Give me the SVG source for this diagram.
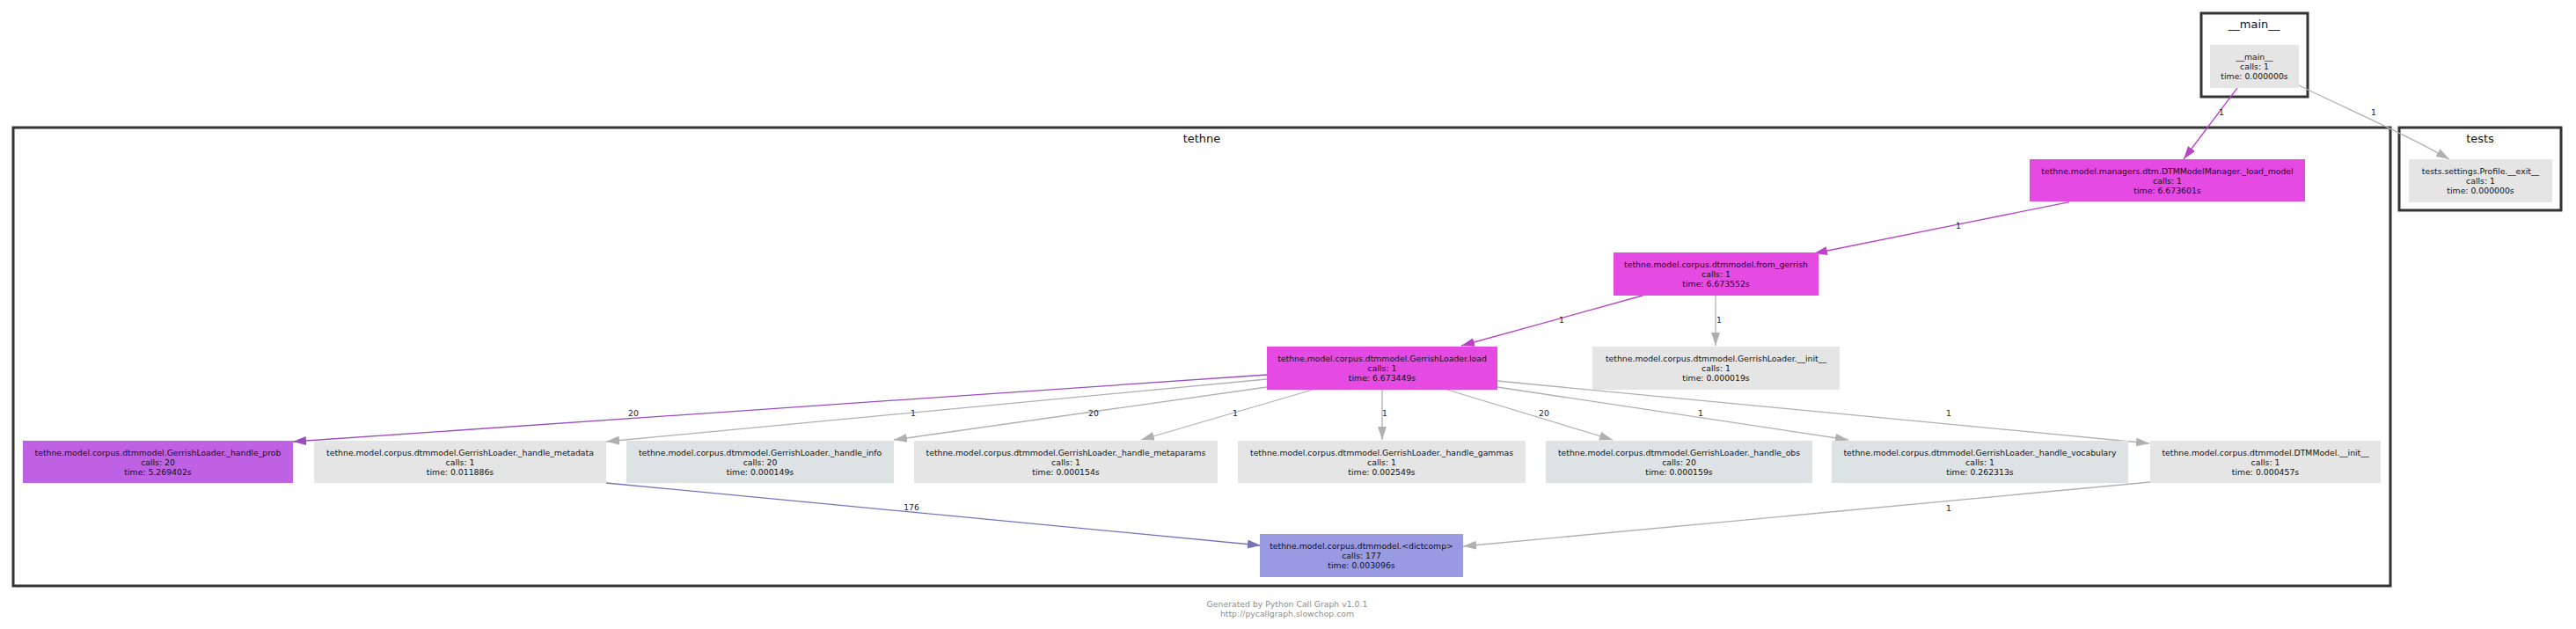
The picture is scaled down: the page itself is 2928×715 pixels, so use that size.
<svg xmlns="http://www.w3.org/2000/svg" width="2928" height="715" viewBox="0 0 2928 715">
<style>
.cl{fill:#ffffff;stroke:#333333;stroke-width:3}
.ct{font-family:"DejaVu Sans",Verdana,sans-serif;font-size:13px;fill:#111;text-anchor:middle}
.nt{font-family:"DejaVu Sans",Verdana,sans-serif;font-size:9.3px;fill:#111;text-anchor:middle}
.el{font-family:"DejaVu Sans",Verdana,sans-serif;font-size:9.3px;fill:#222;text-anchor:middle}
.ft{font-family:"DejaVu Sans",Verdana,sans-serif;font-size:9.3px;fill:#8c8c8c;text-anchor:middle}
.g{fill:#e5e5e5}
.b{fill:#dde3e5}
.m{fill:#e54ae3}
.p{fill:#bf61e3}
.v{fill:#9a9ae3}
.e{fill:none;stroke-width:1.3}
.eg{stroke:#b0b0b0}
.em{stroke:#b843c3}
.ep{stroke:#9a4cc0}
.ev{stroke:#7474b8}
</style>
<defs>
<marker id="ag" markerUnits="userSpaceOnUse" markerWidth="16" markerHeight="12" refX="15" refY="5" orient="auto"><path d="M0,0 L15,5 L0,10 Z" fill="#b0b0b0"/></marker>
<marker id="am" markerUnits="userSpaceOnUse" markerWidth="16" markerHeight="12" refX="15" refY="5" orient="auto"><path d="M0,0 L15,5 L0,10 Z" fill="#b843c3"/></marker>
<marker id="ap" markerUnits="userSpaceOnUse" markerWidth="16" markerHeight="12" refX="15" refY="5" orient="auto"><path d="M0,0 L15,5 L0,10 Z" fill="#9a4cc0"/></marker>
<marker id="av" markerUnits="userSpaceOnUse" markerWidth="16" markerHeight="12" refX="15" refY="5" orient="auto"><path d="M0,0 L15,5 L0,10 Z" fill="#7474b8"/></marker>
</defs>
<rect width="2928" height="715" fill="#ffffff"/>
<g id="clusters">
<g id="cluster_main"><rect class="cl" x="2502" y="15" width="121" height="95"/><text class="ct" x="2562" y="32">__main__</text></g>
<g id="cluster_tests"><rect class="cl" x="2727" y="145" width="184" height="94"/><text class="ct" x="2819" y="161.5">tests</text></g>
<g id="cluster_tethne"><rect class="cl" x="15" y="145" width="2702" height="521"/><text class="ct" x="1366" y="161.5">tethne</text></g>
</g>
<g id="connectors">
<path class="e em" d="M2543,100 L2482,181" marker-end="url(#am)"/>
<path class="e eg" d="M2613,97 C2670,125 2730,150 2784,181" marker-end="url(#ag)"/>
<path class="e em" d="M2352,229.6 L2062,288" marker-end="url(#am)"/>
<path class="e em" d="M1867,336 L1661,393" marker-end="url(#am)"/>
<path class="e eg" d="M1950,336 L1950,393" marker-end="url(#ag)"/>
<path class="e ep" d="M1440,426 L333,502" marker-end="url(#ap)"/>
<path class="e eg" d="M1440,431 L689,502" marker-end="url(#ag)"/>
<path class="e eg" d="M1440,440 L1016,500" marker-end="url(#ag)"/>
<path class="e eg" d="M1492,443 L1297,500" marker-end="url(#ag)"/>
<path class="e eg" d="M1571,443 L1571,500" marker-end="url(#ag)"/>
<path class="e eg" d="M1645,443 L1833,500" marker-end="url(#ag)"/>
<path class="e eg" d="M1702,440 L2101,500" marker-end="url(#ag)"/>
<path class="e eg" d="M1702,433 L2443,504" marker-end="url(#ag)"/>
<path class="e ev" d="M689,549 L1433,620" marker-end="url(#av)"/>
<path class="e eg" d="M2444,548 L1663,621" marker-end="url(#ag)"/>
<text class="el" x="2525" y="131">1</text>
<text class="el" x="2698" y="131">1</text>
<text class="el" x="2226" y="260">1</text>
<text class="el" x="1775" y="367">1</text>
<text class="el" x="1954" y="367">1</text>
<text class="el" x="720" y="473">20</text>
<text class="el" x="1038" y="473">1</text>
<text class="el" x="1243" y="473">20</text>
<text class="el" x="1404" y="473">1</text>
<text class="el" x="1574" y="473">1</text>
<text class="el" x="1755" y="473">20</text>
<text class="el" x="1933" y="473">1</text>
<text class="el" x="2215" y="473">1</text>
<text class="el" x="1036" y="580">176</text>
<text class="el" x="2215" y="581">1</text>
</g>
<g id="n_main"><rect class="g" x="2512" y="51" width="101" height="49"/><text class="nt" x="2562.5" y="67.8">__main__</text><text class="nt" x="2562.5" y="78.8">calls: 1</text><text class="nt" x="2562.5" y="89.8">time: 0.000000s</text></g>
<g id="n_tests_exit"><rect class="g" x="2738" y="181" width="163" height="49"/><text class="nt" x="2819.5" y="197.8">tests.settings.Profile.__exit__</text><text class="nt" x="2819.5" y="208.8">calls: 1</text><text class="nt" x="2819.5" y="219.8">time: 0.000000s</text></g>
<g id="n_load_model"><rect class="m" x="2307" y="181" width="313" height="48"/><text class="nt" x="2463.5" y="197.8">tethne.model.managers.dtm.DTMModelManager._load_model</text><text class="nt" x="2463.5" y="208.8">calls: 1</text><text class="nt" x="2463.5" y="219.8">time: 6.673601s</text></g>
<g id="n_from_gerrish"><rect class="m" x="1834" y="287" width="233" height="49"/><text class="nt" x="1950.5" y="303.8">tethne.model.corpus.dtmmodel.from_gerrish</text><text class="nt" x="1950.5" y="314.8">calls: 1</text><text class="nt" x="1950.5" y="325.8">time: 6.673552s</text></g>
<g id="n_load"><rect class="m" x="1440" y="394" width="262" height="49"/><text class="nt" x="1571" y="410.8">tethne.model.corpus.dtmmodel.GerrishLoader.load</text><text class="nt" x="1571" y="421.8">calls: 1</text><text class="nt" x="1571" y="432.8">time: 6.673449s</text></g>
<g id="n_gl_init"><rect class="g" x="1810" y="394" width="281" height="49"/><text class="nt" x="1950.5" y="410.8">tethne.model.corpus.dtmmodel.GerrishLoader.__init__</text><text class="nt" x="1950.5" y="421.8">calls: 1</text><text class="nt" x="1950.5" y="432.8">time: 0.000019s</text></g>
<g id="n_prob"><rect class="p" x="26" y="501" width="307" height="48"/><text class="nt" x="179.5" y="517.8">tethne.model.corpus.dtmmodel.GerrishLoader._handle_prob</text><text class="nt" x="179.5" y="528.8">calls: 20</text><text class="nt" x="179.5" y="539.8">time: 5.269402s</text></g>
<g id="n_metadata"><rect class="g" x="357" y="501" width="332" height="48"/><text class="nt" x="523" y="517.8">tethne.model.corpus.dtmmodel.GerrishLoader._handle_metadata</text><text class="nt" x="523" y="528.8">calls: 1</text><text class="nt" x="523" y="539.8">time: 0.011886s</text></g>
<g id="n_info"><rect class="b" x="712" y="501" width="304" height="48"/><text class="nt" x="864" y="517.8">tethne.model.corpus.dtmmodel.GerrishLoader._handle_info</text><text class="nt" x="864" y="528.8">calls: 20</text><text class="nt" x="864" y="539.8">time: 0.000149s</text></g>
<g id="n_metaparams"><rect class="g" x="1039" y="501" width="345" height="48"/><text class="nt" x="1211.5" y="517.8">tethne.model.corpus.dtmmodel.GerrishLoader._handle_metaparams</text><text class="nt" x="1211.5" y="528.8">calls: 1</text><text class="nt" x="1211.5" y="539.8">time: 0.000154s</text></g>
<g id="n_gammas"><rect class="g" x="1407" y="501" width="327" height="48"/><text class="nt" x="1570.5" y="517.8">tethne.model.corpus.dtmmodel.GerrishLoader._handle_gammas</text><text class="nt" x="1570.5" y="528.8">calls: 1</text><text class="nt" x="1570.5" y="539.8">time: 0.002549s</text></g>
<g id="n_obs"><rect class="b" x="1757" y="501" width="303" height="48"/><text class="nt" x="1908.5" y="517.8">tethne.model.corpus.dtmmodel.GerrishLoader._handle_obs</text><text class="nt" x="1908.5" y="528.8">calls: 20</text><text class="nt" x="1908.5" y="539.8">time: 0.000159s</text></g>
<g id="n_vocabulary"><rect class="b" x="2082" y="501" width="337" height="48"/><text class="nt" x="2250.5" y="517.8">tethne.model.corpus.dtmmodel.GerrishLoader._handle_vocabulary</text><text class="nt" x="2250.5" y="528.8">calls: 1</text><text class="nt" x="2250.5" y="539.8">time: 0.262313s</text></g>
<g id="n_dtm_init"><rect class="g" x="2444" y="501" width="262" height="48"/><text class="nt" x="2575" y="517.8">tethne.model.corpus.dtmmodel.DTMModel.__init__</text><text class="nt" x="2575" y="528.8">calls: 1</text><text class="nt" x="2575" y="539.8">time: 0.000457s</text></g>
<g id="n_dictcomp"><rect class="v" x="1432" y="607" width="231" height="49"/><text class="nt" x="1547.5" y="623.8">tethne.model.corpus.dtmmodel.&lt;dictcomp&gt;</text><text class="nt" x="1547.5" y="634.8">calls: 177</text><text class="nt" x="1547.5" y="645.8">time: 0.003096s</text></g>
<g id="footer"><text class="ft" x="1463" y="690">Generated by Python Call Graph v1.0.1</text><text class="ft" x="1463" y="701">http://pycallgraph.slowchop.com</text></g>
</svg>
